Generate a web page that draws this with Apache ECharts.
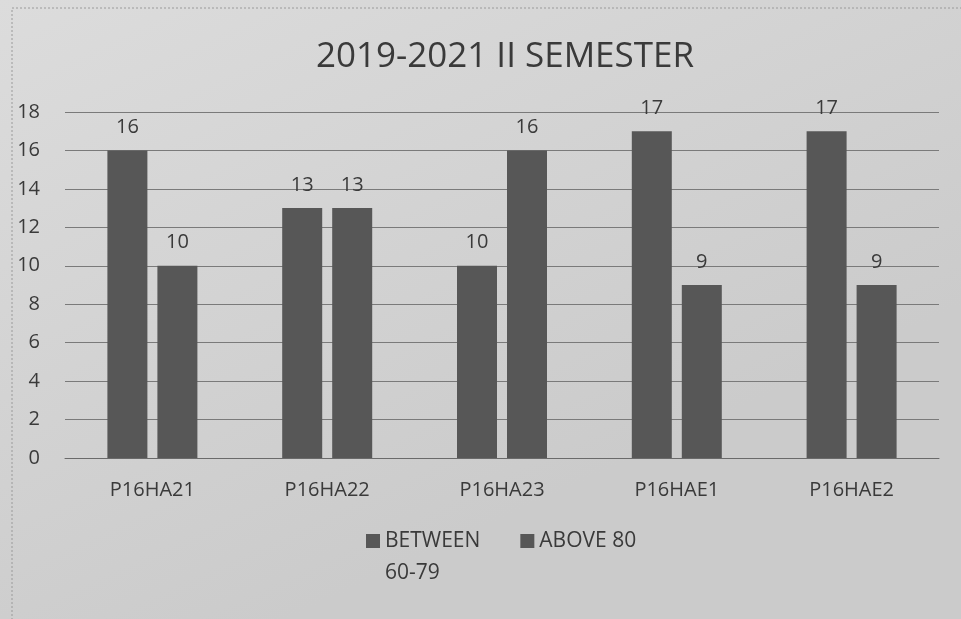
<!DOCTYPE html>
<html>
<head>
<meta charset="utf-8">
<script src="https://cdn.jsdelivr.net/npm/echarts@6/dist/echarts.min.js"></script>
<style>
  html, body { margin: 0; padding: 0; background: #d4d4d4; }
  #main { width: 961px; height: 619px; }
</style>
</head>
<body>
<div id="main"></div>
<script>
var categories = ['P16HA21', 'P16HA22', 'P16HA23', 'P16HAE1', 'P16HAE2'];
var between6079 = [16, 13, 10, 17, 17];
var above80 = [10, 13, 16, 9, 9];
var yTicks = [0, 2, 4, 6, 8, 10, 12, 14, 16, 18];

var chart = echarts.init(document.getElementById('main'));

var labelStyle = {
  show: true,
  position: 'top',
  distance: 13,
  color: '#3a3a3a',
  fontSize: 20,
  fontFamily: 'Open Sans'
};

var option = {
  backgroundColor: new echarts.graphic.LinearGradient(0, 0, 0.3, 1, [
    { offset: 0, color: '#dcdcdc' },
    { offset: 1, color: '#cbcbcb' }
  ]),
  animation: false,
  graphic: [{
    type: 'rect',
    shape: { x: 12, y: 8, width: 960, height: 620 },
    style: { fill: 'none', stroke: '#9a9a9a', lineWidth: 1, lineDash: [2, 2] }
  }],
  title: {
    text: '2019-2021 II SEMESTER',
    left: 500,
    textAlign: 'center',
    top: 35,
    textStyle: { color: '#3a3a3a', fontSize: 35, fontWeight: 'normal', fontFamily: 'Open Sans' }
  },
  grid: { left: 65, right: 22, top: 112, bottom: 161 },
  legend: {
    top: 488,
    left: 361,
    itemWidth: 14,
    itemHeight: 14,
    itemGap: 40,
    icon: 'rect',
    formatter: function (name) {
      // blank first line keeps "BETWEEN" level with its square, "60-79" goes below
      return name.indexOf(' 60') > 0 ? ' \n' + name.replace(' 60', '\n60') : name;
    },
    textStyle: { color: '#3a3a3a', fontSize: 21, fontFamily: 'Open Sans', lineHeight: 32 },
    data: ['BETWEEN 60-79', 'ABOVE 80']
  },
  xAxis: {
    type: 'category',
    data: categories,
    axisLine: { lineStyle: { color: '#6a6a6a' } },
    axisTick: { show: false },
    axisLabel: { color: '#3a3a3a', fontSize: 20, fontFamily: 'Open Sans', margin: 22 }
  },
  yAxis: {
    type: 'value',
    min: yTicks[0],
    max: yTicks[yTicks.length - 1],
    interval: 2,
    axisLine: { show: false },
    axisTick: { show: false },
    axisLabel: { color: '#3a3a3a', fontSize: 20, fontFamily: 'Open Sans', margin: 25 },
    splitLine: { lineStyle: { color: '#7a7a7a', width: 1 } }
  },
  series: [{
    name: 'BETWEEN 60-79',
    type: 'bar',
    data: between6079,
    barWidth: 40,
    barGap: '25%',
    itemStyle: { color: '#575757' },
    label: labelStyle
  }, {
    name: 'ABOVE 80',
    type: 'bar',
    data: above80,
    barWidth: 40,
    itemStyle: { color: '#575757' },
    label: labelStyle
  }]
};

chart.setOption(option);
</script>
</body>
</html>
